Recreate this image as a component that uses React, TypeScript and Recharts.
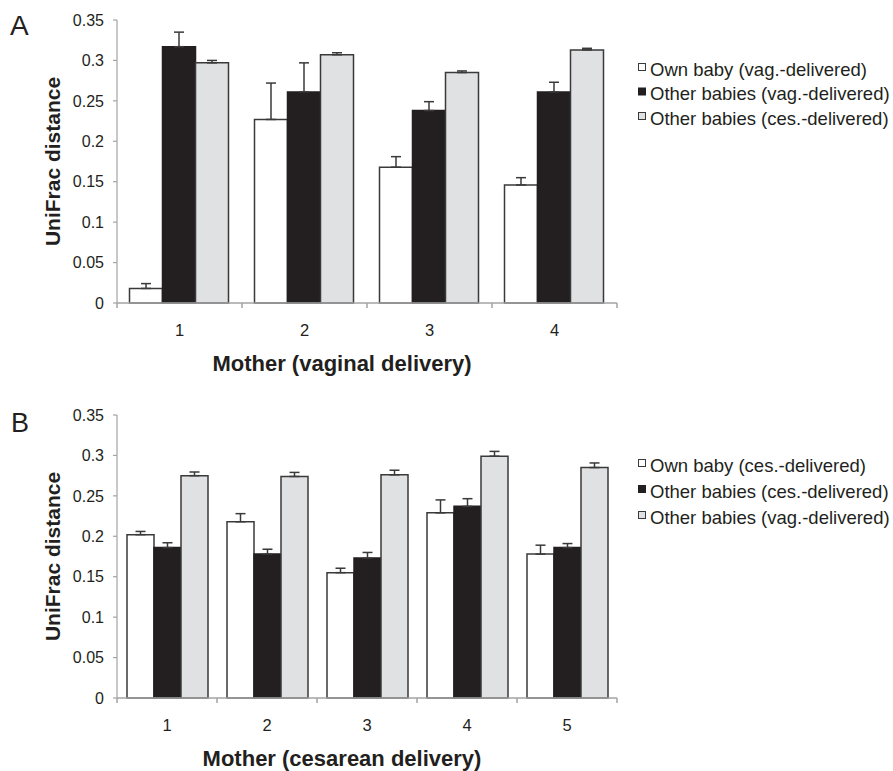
import { Bar, BarChart, ErrorBar, XAxis, YAxis } from 'recharts'

// Panel A: mothers who delivered vaginally
const mothersA = ['1', '2', '3', '4']
const ownVagA = [0.018, 0.227, 0.168, 0.146]
const ownVagErrA = [0.006, 0.045, 0.013, 0.009]
const otherVagA = [0.317, 0.261, 0.238, 0.261]
const otherVagErrA = [0.018, 0.036, 0.011, 0.012]
const otherCesA = [0.297, 0.307, 0.285, 0.313]
const otherCesErrA = [0.003, 0.0025, 0.002, 0.002]

// Panel B: mothers who delivered by cesarean
const mothersB = ['1', '2', '3', '4', '5']
const ownCesB = [0.202, 0.218, 0.155, 0.229, 0.178]
const ownCesErrB = [0.004, 0.01, 0.0055, 0.016, 0.011]
const otherCesB = [0.186, 0.178, 0.173, 0.237, 0.186]
const otherCesErrB = [0.006, 0.006, 0.007, 0.0095, 0.005]
const otherVagB = [0.275, 0.274, 0.276, 0.299, 0.285]
const otherVagErrB = [0.0045, 0.005, 0.0057, 0.006, 0.0057]

const yTicks = [0, 0.05, 0.1, 0.15, 0.2, 0.25, 0.3, 0.35]

const FONT = '"Liberation Sans", Arial, Helvetica, sans-serif'
const INK = '#231f20'
const AXIS = '#a3a3a3'
const EDGE = '#3a3a3a'
const WHITE = '#ffffff'
const BLACK = '#231f20'
const GREY = '#e0e1e3'

const W = 893
const Y_AXIS_W = 117
const RIGHT = 276
const PLOT_W = W - Y_AXIS_W - RIGHT

interface SeriesDef {
  key: string
  label: string
  fill: string
  values: number[]
  errors: number[]
}

const seriesA: SeriesDef[] = [
  { key: 'own', label: 'Own baby (vag.-delivered)', fill: WHITE, values: ownVagA, errors: ownVagErrA },
  { key: 'otherSame', label: 'Other babies (vag.-delivered)', fill: BLACK, values: otherVagA, errors: otherVagErrA },
  { key: 'otherDiff', label: 'Other babies (ces.-delivered)', fill: GREY, values: otherCesA, errors: otherCesErrA },
]

const seriesB: SeriesDef[] = [
  { key: 'own', label: 'Own baby (ces.-delivered)', fill: WHITE, values: ownCesB, errors: ownCesErrB },
  { key: 'otherSame', label: 'Other babies (ces.-delivered)', fill: BLACK, values: otherCesB, errors: otherCesErrB },
  { key: 'otherDiff', label: 'Other babies (vag.-delivered)', fill: GREY, values: otherVagB, errors: otherVagErrB },
]

function MotherTick(props: any) {
  const { x, y, payload, index, count } = props
  const half = typeof payload?.offset === 'number' && payload.offset > 0 ? payload.offset : PLOT_W / count / 2
  return (
    <g>
      <line x1={x - half} x2={x - half} y1={y} y2={y + 5} stroke={AXIS} strokeWidth={1.5} />
      {index === count - 1 && <line x1={x + half} x2={x + half} y1={y} y2={y + 5} stroke={AXIS} strokeWidth={1.5} />}
      <text x={x} y={y + 27} textAnchor="middle" dominantBaseline="central" fontSize={16.5} fill={INK} fontFamily={FONT}>
        {payload.value}
      </text>
    </g>
  )
}

function Panel({
  top,
  height,
  categories,
  series,
  xLabel,
}: {
  top: number
  height: number
  categories: string[]
  series: SeriesDef[]
  xLabel: string
}) {
  const rows = categories.map((c, i) => {
    const row: Record<string, unknown> = { mother: c }
    series.forEach((s) => {
      row[s.key] = s.values[i]
      row[s.key + 'Err'] = [0, s.errors[i]]
    })
    return row
  })
  const marginTop = 20
  const xAxisH = height - marginTop - 283
  const plotMid = marginTop + 283 / 2

  return (
    <div style={{ position: 'absolute', left: 0, top }}>
      <BarChart
        width={W}
        height={height}
        data={rows}
        margin={{ top: marginTop, right: RIGHT, bottom: 0, left: 0 }}
        barGap={0}
        barCategoryGap="10%"
        style={{ overflow: 'visible' }}
      >
        <XAxis
          dataKey="mother"
          height={xAxisH}
          interval={0}
          axisLine={{ stroke: AXIS, strokeWidth: 1.5 }}
          tickLine={false}
          tickSize={0}
          tickMargin={0}
          tick={(p: any) => <MotherTick {...p} count={categories.length} />}
          label={{
            content: () => (
              <text x={342} y={363} textAnchor="middle" dominantBaseline="central" fontSize={22}
                fontWeight="bold" fill={INK} fontFamily={FONT}>
                {xLabel}
              </text>
            ),
          }}
        />
        <YAxis
          domain={[0, 0.35]}
          ticks={yTicks}
          interval={0}
          width={Y_AXIS_W}
          axisLine={{ stroke: AXIS, strokeWidth: 1.2 }}
          tickLine={{ stroke: AXIS, strokeWidth: 1.2 }}
          tickSize={4}
          tickMargin={9}
          tickFormatter={(v: number) => String(v)}
          tick={{ fontSize: 16, fill: INK, fontFamily: FONT }}
          label={{
            content: () => (
              <text x={52} y={plotMid} transform={`rotate(-90 52 ${plotMid})`} textAnchor="middle"
                dominantBaseline="central" fontSize={21} fontWeight="bold" fill={INK} fontFamily={FONT}>
                UniFrac distance
              </text>
            ),
          }}
        />
        {series.map((s) => (
          <Bar
            key={s.key}
            dataKey={s.key}
            name={s.label}
            fill={s.fill}
            stroke={s.fill === BLACK ? BLACK : EDGE}
            strokeWidth={1.5}
            isAnimationActive={false}
          >
            <ErrorBar dataKey={s.key + 'Err'} width={5} stroke={EDGE} strokeWidth={1.5} direction="y" />
          </Bar>
        ))}
      </BarChart>
    </div>
  )
}

function LegendBlock({ series, rowsY }: { series: SeriesDef[]; rowsY: number[] }) {
  return (
    <g>
      {series.map((s, i) => (
        <g key={s.key}>
          <rect x={638.5} y={rowsY[i] - 5.5} width={7} height={7} fill={s.fill}
            stroke={s.fill === BLACK ? BLACK : EDGE} strokeWidth={1} />
          <text x={650} y={rowsY[i]} dominantBaseline="central" fontSize={18.5} fill={INK} fontFamily={FONT}>
            {s.label}
          </text>
        </g>
      ))}
    </g>
  )
}

export default function App() {
  return (
    <div style={{ position: 'absolute', left: 0, top: 0, width: W, height: 771, background: '#fff', overflow: 'hidden' }}>
      <Panel top={0} height={385} categories={mothersA} series={seriesA} xLabel="Mother (vaginal delivery)" />
      <Panel top={395} height={376} categories={mothersB} series={seriesB} xLabel="Mother (cesarean delivery)" />
      <svg width={W} height={771} style={{ position: 'absolute', left: 0, top: 0, pointerEvents: 'none' }}>
        <text x={10} y={35} fontSize={28} fill={INK} fontFamily={FONT}>A</text>
        <text x={11} y={432} fontSize={27} fill={INK} fontFamily={FONT}>B</text>
        <LegendBlock series={seriesA} rowsY={[69, 93.5, 118]} />
        <LegendBlock series={seriesB} rowsY={[465, 491, 517]} />
      </svg>
    </div>
  )
}
